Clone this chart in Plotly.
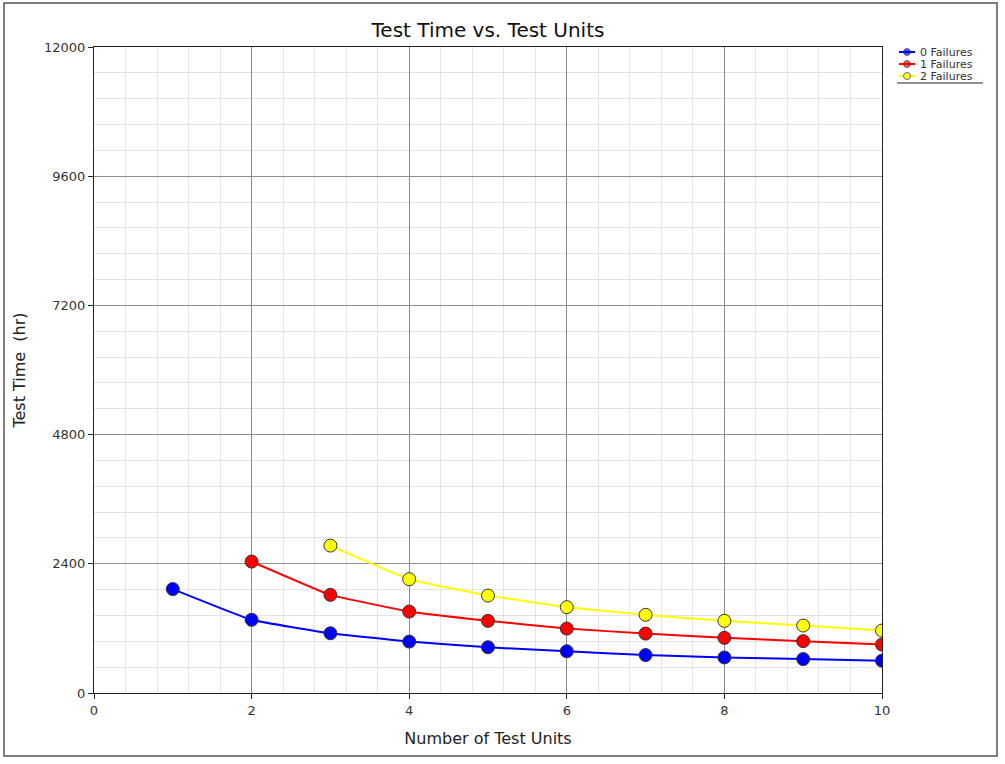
import plotly.graph_objects as go

units = [1, 2, 3, 4, 5, 6, 7, 8, 9, 10]
fail0 = [1930, 1360, 1110, 955, 850, 775, 705, 660, 630, 600]
fail1 = [None, 2441, 1823, 1513, 1340, 1197, 1104, 1024, 963, 900]
fail2 = [None, None, 2738, 2114, 1810, 1594, 1452, 1340, 1253, 1160]
names = ["0 Failures", "1 Failures", "2 Failures"]
colors = ["#0000ff", "#ff0000", "#ffff00"]

FONT = "DejaVu Sans"
W, H = 1005, 764
L, R, T, B = 94, 5, 40, 71
PW = W - L - R          # 906
PH = H - T - B          # 653
MAIN_W = 788
MAIN_H = 646


def px(xp):
    return (xp - L) / PW


def py(yp):
    return (H - B - yp) / PH


fig = go.Figure()
for name, vals, col in zip(names, [fail0, fail1, fail2], colors):
    xs = [u for u, v in zip(units, vals) if v is not None]
    ys = [v for v in vals if v is not None]
    fig.add_trace(go.Scatter(
        x=xs, y=ys, name=name, mode="lines+markers", showlegend=False,
        line=dict(color=col, width=2, shape="spline", smoothing=0.3),
        marker=dict(size=13, color=col, line=dict(color="#333333", width=1)),
    ))

# hand-made legend on a small auxiliary axis
leg_x0, leg_x1 = 895, 1000
leg_y0, leg_y1 = 88, 40
rows = [52, 64, 76]


def lx(xp):
    return (xp - leg_x0) / (leg_x1 - leg_x0)


def ly(yp):
    return (leg_y0 - yp) / (leg_y0 - leg_y1)


for name, col, ry in zip(names, colors, rows):
    fig.add_trace(go.Scatter(
        x=[lx(899), lx(907), lx(915)], y=[ly(ry)] * 3,
        xaxis="x2", yaxis="y2", mode="lines+markers", showlegend=False,
        hoverinfo="skip", cliponaxis=False,
        line=dict(color=col, width=2),
        marker=dict(size=[0, 7, 0], color=col,
                    line=dict(color="#333333", width=[0, 1, 0])),
    ))
    fig.add_annotation(x=lx(918), y=ly(ry), xref="x2", yref="y2", text=name,
                       showarrow=False, xanchor="left", yanchor="middle",
                       font=dict(family=FONT, size=11, color="#333333"))

fig.update_layout(
    width=W, height=H, autosize=False,
    margin=dict(l=L, r=R, t=T, b=B, autoexpand=False),
    paper_bgcolor="white", plot_bgcolor="white",
    title=dict(text="Test Time vs. Test Units", x=488 / W, xanchor="center",
               y=1 - 30 / H, yanchor="middle",
               font=dict(family=FONT, size=20, color="#111111")),
    font=dict(family=FONT, color="#222222"),
    showlegend=False,
    xaxis=dict(
        domain=[0, MAIN_W / PW], automargin=False,
        range=[0, 10], tick0=0, dtick=2,
        showgrid=True, gridcolor="#8c8c8c", gridwidth=1,
        minor=dict(dtick=0.4, showgrid=True, gridcolor="#e3e3e3", gridwidth=1),
        showline=True, linecolor="#222222", linewidth=1, mirror=True,
        ticks="outside", ticklen=5, tickcolor="#222222",
        tickfont=dict(size=13, color="#333333"),
        title=dict(text="Number of Test Units", font=dict(size=16, color="#222222"), standoff=16),
        zeroline=False,
    ),
    yaxis=dict(
        domain=[0, MAIN_H / PH], automargin=False,
        range=[0, 12000], tick0=0, dtick=2400, tickformat="d",
        showgrid=True, gridcolor="#8c8c8c", gridwidth=1,
        minor=dict(dtick=480, showgrid=True, gridcolor="#e3e3e3", gridwidth=1),
        showline=True, linecolor="#222222", linewidth=1, mirror=True,
        ticks="outside", ticklen=5, tickcolor="#222222",
        tickfont=dict(size=13, color="#333333"),
        title=dict(text="Test Time  (hr)", font=dict(size=16, color="#222222"), standoff=14),
        zeroline=False,
    ),
    xaxis2=dict(domain=[px(leg_x0), 1], range=[0, 1], visible=False,
                anchor="y2", fixedrange=True, automargin=False),
    yaxis2=dict(domain=[py(leg_y0), 1], range=[0, 1], visible=False,
                anchor="x2", fixedrange=True, automargin=False),
)
# outer frame
fig.add_shape(type="rect", xref="paper", yref="paper",
              x0=px(4), x1=px(997), y0=py(756), y1=py(3),
              line=dict(color="#555555", width=1.5), layer="below")
# legend underline
fig.add_shape(type="line", xref="paper", yref="paper",
              x0=px(897), x1=px(983), y0=py(83), y1=py(83),
              line=dict(color="#222222", width=1))
fig.write_html(
    "out.html", config={"displayModeBar": False, "responsive": False},
    post_script=("document.body.style.margin='0px';"
                 "document.body.style.overflow='hidden';"
                 "document.documentElement.style.overflow='hidden';"),
)
